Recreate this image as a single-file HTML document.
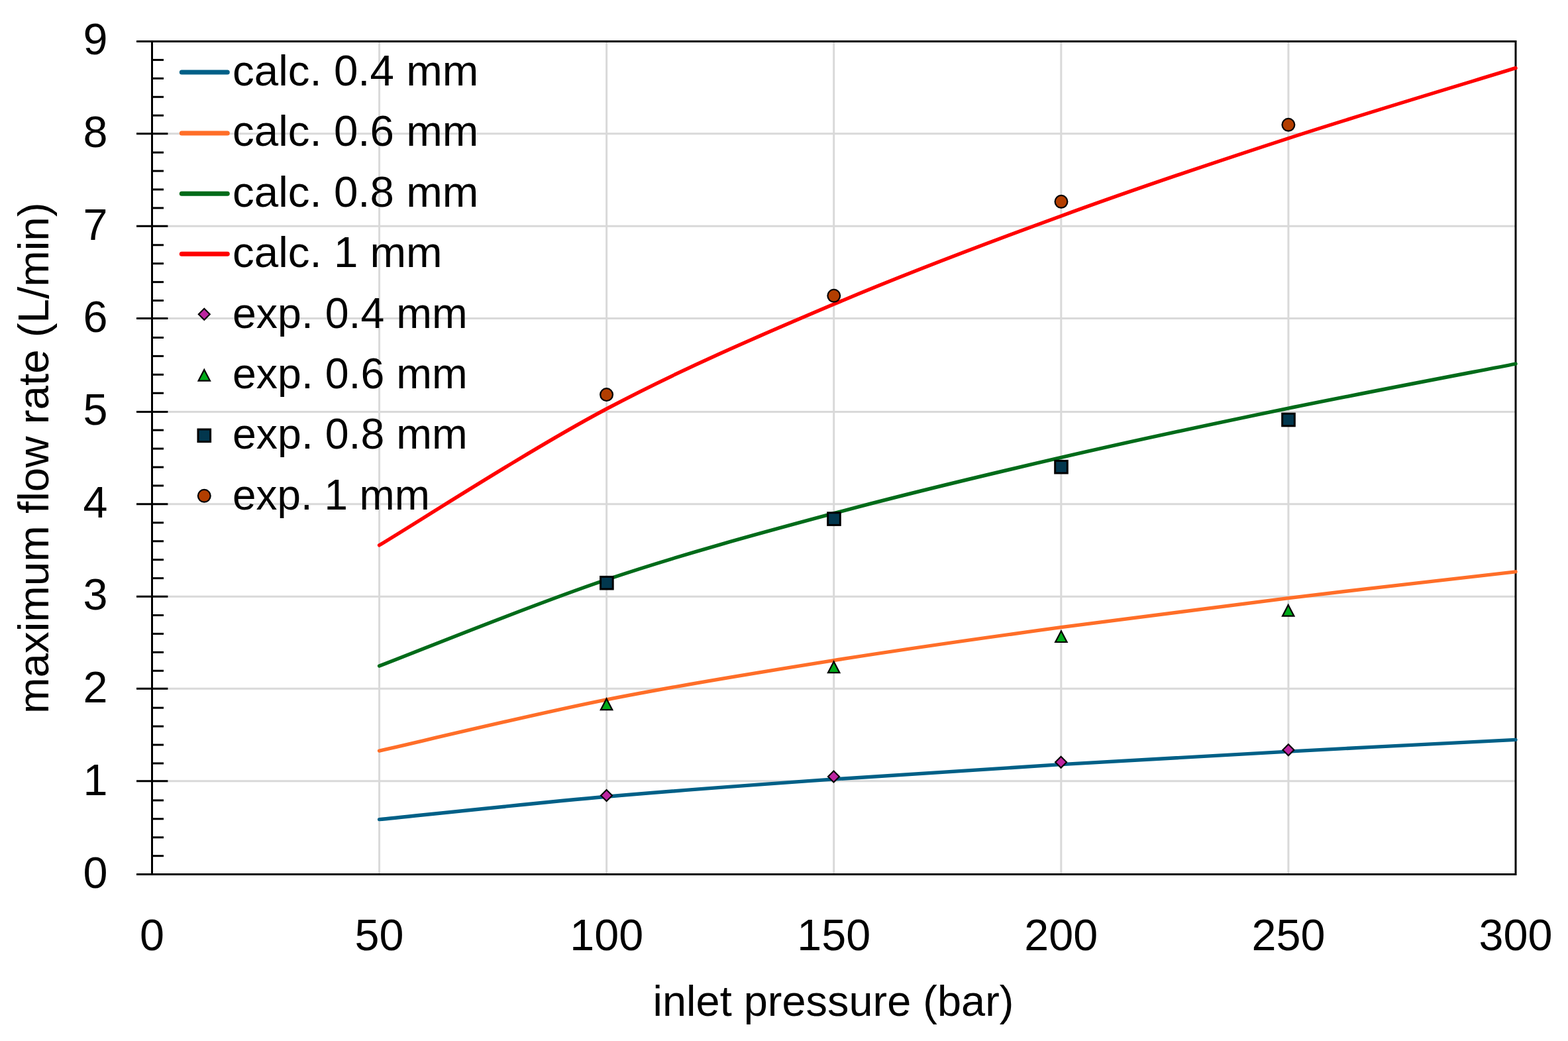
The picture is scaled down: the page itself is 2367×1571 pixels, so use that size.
<!DOCTYPE html>
<html><head><meta charset="utf-8"><title>maximum flow rate vs inlet pressure</title>
<style>
html,body{margin:0;padding:0;background:#fff;}
body{width:2367px;height:1571px;overflow:hidden;}
svg{display:block;}
text{font-family:"Liberation Sans", Arial, sans-serif;fill:#000;}
</style></head>
<body>
<svg width="2367" height="1571" viewBox="0 0 2367 1571">
<rect width="2367" height="1571" fill="#fff"/>
<line x1="231" y1="1178.70" x2="2287" y2="1178.70" stroke="#d9d9d9" stroke-width="3"/>
<line x1="231" y1="1039.20" x2="2287" y2="1039.20" stroke="#d9d9d9" stroke-width="3"/>
<line x1="231" y1="900.30" x2="2287" y2="900.30" stroke="#d9d9d9" stroke-width="3"/>
<line x1="231" y1="760.70" x2="2287" y2="760.70" stroke="#d9d9d9" stroke-width="3"/>
<line x1="231" y1="621.50" x2="2287" y2="621.50" stroke="#d9d9d9" stroke-width="3"/>
<line x1="231" y1="480.60" x2="2287" y2="480.60" stroke="#d9d9d9" stroke-width="3"/>
<line x1="231" y1="341.30" x2="2287" y2="341.30" stroke="#d9d9d9" stroke-width="3"/>
<line x1="231" y1="201.70" x2="2287" y2="201.70" stroke="#d9d9d9" stroke-width="3"/>
<line x1="572.58" y1="64" x2="572.58" y2="1318" stroke="#d9d9d9" stroke-width="3"/>
<line x1="915.67" y1="64" x2="915.67" y2="1318" stroke="#d9d9d9" stroke-width="3"/>
<line x1="1258.75" y1="64" x2="1258.75" y2="1318" stroke="#d9d9d9" stroke-width="3"/>
<line x1="1601.83" y1="64" x2="1601.83" y2="1318" stroke="#d9d9d9" stroke-width="3"/>
<line x1="1944.92" y1="64" x2="1944.92" y2="1318" stroke="#d9d9d9" stroke-width="3"/>
<path d="M206 62.5 H2288 V1319.6 H206" fill="none" stroke="#000" stroke-width="3"/>
<line x1="229.5" y1="61" x2="229.5" y2="1321.1" stroke="#000" stroke-width="3"/>
<line x1="206" y1="1178.70" x2="253.4" y2="1178.70" stroke="#000" stroke-width="3"/>
<line x1="206" y1="1039.20" x2="253.4" y2="1039.20" stroke="#000" stroke-width="3"/>
<line x1="206" y1="900.30" x2="253.4" y2="900.30" stroke="#000" stroke-width="3"/>
<line x1="206" y1="760.70" x2="253.4" y2="760.70" stroke="#000" stroke-width="3"/>
<line x1="206" y1="621.50" x2="253.4" y2="621.50" stroke="#000" stroke-width="3"/>
<line x1="206" y1="480.60" x2="253.4" y2="480.60" stroke="#000" stroke-width="3"/>
<line x1="206" y1="341.30" x2="253.4" y2="341.30" stroke="#000" stroke-width="3"/>
<line x1="206" y1="201.70" x2="253.4" y2="201.70" stroke="#000" stroke-width="3"/>
<line x1="231" y1="1291.66" x2="247" y2="1291.66" stroke="#000" stroke-width="3"/>
<line x1="231" y1="1263.73" x2="247" y2="1263.73" stroke="#000" stroke-width="3"/>
<line x1="231" y1="1235.79" x2="247" y2="1235.79" stroke="#000" stroke-width="3"/>
<line x1="231" y1="1207.86" x2="247" y2="1207.86" stroke="#000" stroke-width="3"/>
<line x1="231" y1="1151.98" x2="247" y2="1151.98" stroke="#000" stroke-width="3"/>
<line x1="231" y1="1124.05" x2="247" y2="1124.05" stroke="#000" stroke-width="3"/>
<line x1="231" y1="1096.11" x2="247" y2="1096.11" stroke="#000" stroke-width="3"/>
<line x1="231" y1="1068.18" x2="247" y2="1068.18" stroke="#000" stroke-width="3"/>
<line x1="231" y1="1012.30" x2="247" y2="1012.30" stroke="#000" stroke-width="3"/>
<line x1="231" y1="984.37" x2="247" y2="984.37" stroke="#000" stroke-width="3"/>
<line x1="231" y1="956.43" x2="247" y2="956.43" stroke="#000" stroke-width="3"/>
<line x1="231" y1="928.50" x2="247" y2="928.50" stroke="#000" stroke-width="3"/>
<line x1="231" y1="872.62" x2="247" y2="872.62" stroke="#000" stroke-width="3"/>
<line x1="231" y1="844.69" x2="247" y2="844.69" stroke="#000" stroke-width="3"/>
<line x1="231" y1="816.75" x2="247" y2="816.75" stroke="#000" stroke-width="3"/>
<line x1="231" y1="788.82" x2="247" y2="788.82" stroke="#000" stroke-width="3"/>
<line x1="231" y1="732.94" x2="247" y2="732.94" stroke="#000" stroke-width="3"/>
<line x1="231" y1="705.01" x2="247" y2="705.01" stroke="#000" stroke-width="3"/>
<line x1="231" y1="677.07" x2="247" y2="677.07" stroke="#000" stroke-width="3"/>
<line x1="231" y1="649.14" x2="247" y2="649.14" stroke="#000" stroke-width="3"/>
<line x1="231" y1="593.26" x2="247" y2="593.26" stroke="#000" stroke-width="3"/>
<line x1="231" y1="565.33" x2="247" y2="565.33" stroke="#000" stroke-width="3"/>
<line x1="231" y1="537.39" x2="247" y2="537.39" stroke="#000" stroke-width="3"/>
<line x1="231" y1="509.46" x2="247" y2="509.46" stroke="#000" stroke-width="3"/>
<line x1="231" y1="453.58" x2="247" y2="453.58" stroke="#000" stroke-width="3"/>
<line x1="231" y1="425.65" x2="247" y2="425.65" stroke="#000" stroke-width="3"/>
<line x1="231" y1="397.71" x2="247" y2="397.71" stroke="#000" stroke-width="3"/>
<line x1="231" y1="369.78" x2="247" y2="369.78" stroke="#000" stroke-width="3"/>
<line x1="231" y1="313.90" x2="247" y2="313.90" stroke="#000" stroke-width="3"/>
<line x1="231" y1="285.97" x2="247" y2="285.97" stroke="#000" stroke-width="3"/>
<line x1="231" y1="258.03" x2="247" y2="258.03" stroke="#000" stroke-width="3"/>
<line x1="231" y1="230.10" x2="247" y2="230.10" stroke="#000" stroke-width="3"/>
<line x1="231" y1="174.22" x2="247" y2="174.22" stroke="#000" stroke-width="3"/>
<line x1="231" y1="146.29" x2="247" y2="146.29" stroke="#000" stroke-width="3"/>
<line x1="231" y1="118.35" x2="247" y2="118.35" stroke="#000" stroke-width="3"/>
<line x1="231" y1="90.42" x2="247" y2="90.42" stroke="#000" stroke-width="3"/>
<path d="M572.58 1236.63 C629.76 1230.91 801.31 1212.39 915.67 1202.27 C1030.03 1192.15 1144.39 1184.00 1258.75 1175.90 C1373.11 1167.80 1487.47 1160.64 1601.83 1153.67 C1716.19 1146.70 1830.56 1140.30 1944.92 1134.08 C2059.28 1127.87 2230.82 1119.33 2288.00 1116.38" fill="none" stroke="#006087" stroke-width="5.4" stroke-linecap="round" stroke-linejoin="round"/>
<path d="M572.58 1133.12 C629.76 1120.25 801.31 1078.64 915.67 1055.88 C1030.03 1033.13 1144.39 1014.82 1258.75 996.62 C1373.11 978.41 1487.47 962.31 1601.83 946.65 C1716.19 930.99 1830.56 916.60 1944.92 902.63 C2059.28 888.66 2230.82 869.46 2288.00 862.83" fill="none" stroke="#FF6E28" stroke-width="5.4" stroke-linecap="round" stroke-linejoin="round"/>
<path d="M572.58 1005.02 C629.76 983.30 801.31 913.10 915.67 874.72 C1030.03 836.34 1144.39 805.45 1258.75 774.73 C1373.11 744.02 1487.47 716.87 1601.83 690.44 C1716.19 664.02 1830.56 639.75 1944.92 616.18 C2059.28 592.62 2230.82 560.23 2288.00 549.04" fill="none" stroke="#006B19" stroke-width="5.4" stroke-linecap="round" stroke-linejoin="round"/>
<path d="M572.58 822.79 C629.76 788.50 801.31 677.62 915.67 617.01 C1030.03 556.40 1144.39 507.61 1258.75 459.11 C1373.11 410.60 1487.47 367.72 1601.83 325.99 C1716.19 284.25 1830.56 245.93 1944.92 208.71 C2059.28 171.49 2230.82 120.35 2288.00 102.68" fill="none" stroke="#FF0000" stroke-width="5.4" stroke-linecap="round" stroke-linejoin="round"/>
<path d="M915.6 1192.00 L924.10 1200.5 L915.6 1209.00 L907.10 1200.5 Z" fill="#BC25A0" stroke="#000" stroke-width="2.1"/>
<path d="M1258.5 1163.50 L1267.00 1172 L1258.5 1180.50 L1250.00 1172 Z" fill="#BC25A0" stroke="#000" stroke-width="2.1"/>
<path d="M1601.6 1141.80 L1610.10 1150.3 L1601.6 1158.80 L1593.10 1150.3 Z" fill="#BC25A0" stroke="#000" stroke-width="2.1"/>
<path d="M1944.9 1123.30 L1953.40 1131.8 L1944.9 1140.30 L1936.40 1131.8 Z" fill="#BC25A0" stroke="#000" stroke-width="2.1"/>
<path d="M915.6 1054.50 L924.30 1071.20 L906.90 1071.20 Z" fill="#00AA19" stroke="#000" stroke-width="2.2"/>
<path d="M1258.7 998.50 L1267.40 1015.20 L1250.00 1015.20 Z" fill="#00AA19" stroke="#000" stroke-width="2.2"/>
<path d="M1601.9 952.30 L1610.60 969.00 L1593.20 969.00 Z" fill="#00AA19" stroke="#000" stroke-width="2.2"/>
<path d="M1944.7 913.00 L1953.40 929.70 L1936.00 929.70 Z" fill="#00AA19" stroke="#000" stroke-width="2.2"/>
<rect x="906.60" y="870.40" width="18.6" height="18.6" fill="#02374E" stroke="#000" stroke-width="3"/>
<rect x="1249.70" y="773.80" width="18.6" height="18.6" fill="#02374E" stroke="#000" stroke-width="3"/>
<rect x="1592.70" y="695.40" width="18.6" height="18.6" fill="#02374E" stroke="#000" stroke-width="3"/>
<rect x="1935.70" y="624.20" width="18.6" height="18.6" fill="#02374E" stroke="#000" stroke-width="3"/>
<circle cx="915.6" cy="595.6" r="9.4" fill="#B23E00" stroke="#000" stroke-width="2.2"/>
<circle cx="1258.8" cy="446.3" r="9.4" fill="#B23E00" stroke="#000" stroke-width="2.2"/>
<circle cx="1602" cy="304.3" r="9.4" fill="#B23E00" stroke="#000" stroke-width="2.2"/>
<circle cx="1944.9" cy="188.3" r="9.4" fill="#B23E00" stroke="#000" stroke-width="2.2"/>
<line x1="274.3" y1="109.06" x2="343.3" y2="109.06" stroke="#006087" stroke-width="7" stroke-linecap="round"/>
<text x="351.00" y="128.90" font-size="65.5">calc. 0.4 mm</text>
<line x1="274.3" y1="201.00" x2="343.3" y2="201.00" stroke="#FF6E28" stroke-width="7" stroke-linecap="round"/>
<text x="351.00" y="220.30" font-size="65.5">calc. 0.6 mm</text>
<line x1="274.3" y1="292.30" x2="343.3" y2="292.30" stroke="#006B19" stroke-width="7" stroke-linecap="round"/>
<text x="351.00" y="311.70" font-size="65.5">calc. 0.8 mm</text>
<line x1="274.3" y1="383.30" x2="343.3" y2="383.30" stroke="#FF0000" stroke-width="7" stroke-linecap="round"/>
<text x="351.00" y="403.10" font-size="65.5">calc. 1 mm</text>
<path d="M308.3 465.80 L316.80 474.3 L308.3 482.80 L299.80 474.3 Z" fill="#BC25A0" stroke="#000" stroke-width="2.1"/>
<text x="351.00" y="494.50" font-size="65.5" textLength="354.70" lengthAdjust="spacingAndGlyphs">exp. 0.4 mm</text>
<path d="M308.3 557.90 L317.00 574.60 L299.60 574.60 Z" fill="#00AA19" stroke="#000" stroke-width="2.2"/>
<text x="351.00" y="585.90" font-size="65.5" textLength="354.70" lengthAdjust="spacingAndGlyphs">exp. 0.6 mm</text>
<rect x="299.00" y="648.00" width="18.6" height="18.6" fill="#02374E" stroke="#000" stroke-width="3"/>
<text x="351.00" y="677.30" font-size="65.5" textLength="354.70" lengthAdjust="spacingAndGlyphs">exp. 0.8 mm</text>
<circle cx="308.3" cy="748.3" r="9.4" fill="#B23E00" stroke="#000" stroke-width="2.2"/>
<text x="351.00" y="768.70" font-size="65.5" textLength="297.97" lengthAdjust="spacingAndGlyphs">exp. 1 mm</text>
<text x="162.50" y="1339.50" font-size="66.5" text-anchor="end">0</text>
<text x="162.50" y="1199.82" font-size="66.5" text-anchor="end">1</text>
<text x="162.50" y="1060.14" font-size="66.5" text-anchor="end">2</text>
<text x="162.50" y="920.46" font-size="66.5" text-anchor="end">3</text>
<text x="162.50" y="780.78" font-size="66.5" text-anchor="end">4</text>
<text x="162.50" y="641.10" font-size="66.5" text-anchor="end">5</text>
<text x="162.50" y="501.42" font-size="66.5" text-anchor="end">6</text>
<text x="162.50" y="361.74" font-size="66.5" text-anchor="end">7</text>
<text x="162.50" y="222.06" font-size="66.5" text-anchor="end">8</text>
<text x="162.50" y="82.38" font-size="66.5" text-anchor="end">9</text>
<text x="229.50" y="1434" font-size="66.5" text-anchor="middle">0</text>
<text x="572.58" y="1434" font-size="66.5" text-anchor="middle">50</text>
<text x="915.67" y="1434" font-size="66.5" text-anchor="middle">100</text>
<text x="1258.75" y="1434" font-size="66.5" text-anchor="middle">150</text>
<text x="1601.83" y="1434" font-size="66.5" text-anchor="middle">200</text>
<text x="1944.92" y="1434" font-size="66.5" text-anchor="middle">250</text>
<text x="2288.00" y="1434" font-size="66.5" text-anchor="middle">300</text>
<text x="1258.00" y="1532.8" font-size="65.5" text-anchor="middle" textLength="544.80" lengthAdjust="spacingAndGlyphs">inlet pressure (bar)</text>
<text transform="translate(73,691.20) rotate(-90)" x="0" y="0" font-size="65.5" text-anchor="middle">maximum flow rate (L/min)</text>
</svg>
</body></html>
